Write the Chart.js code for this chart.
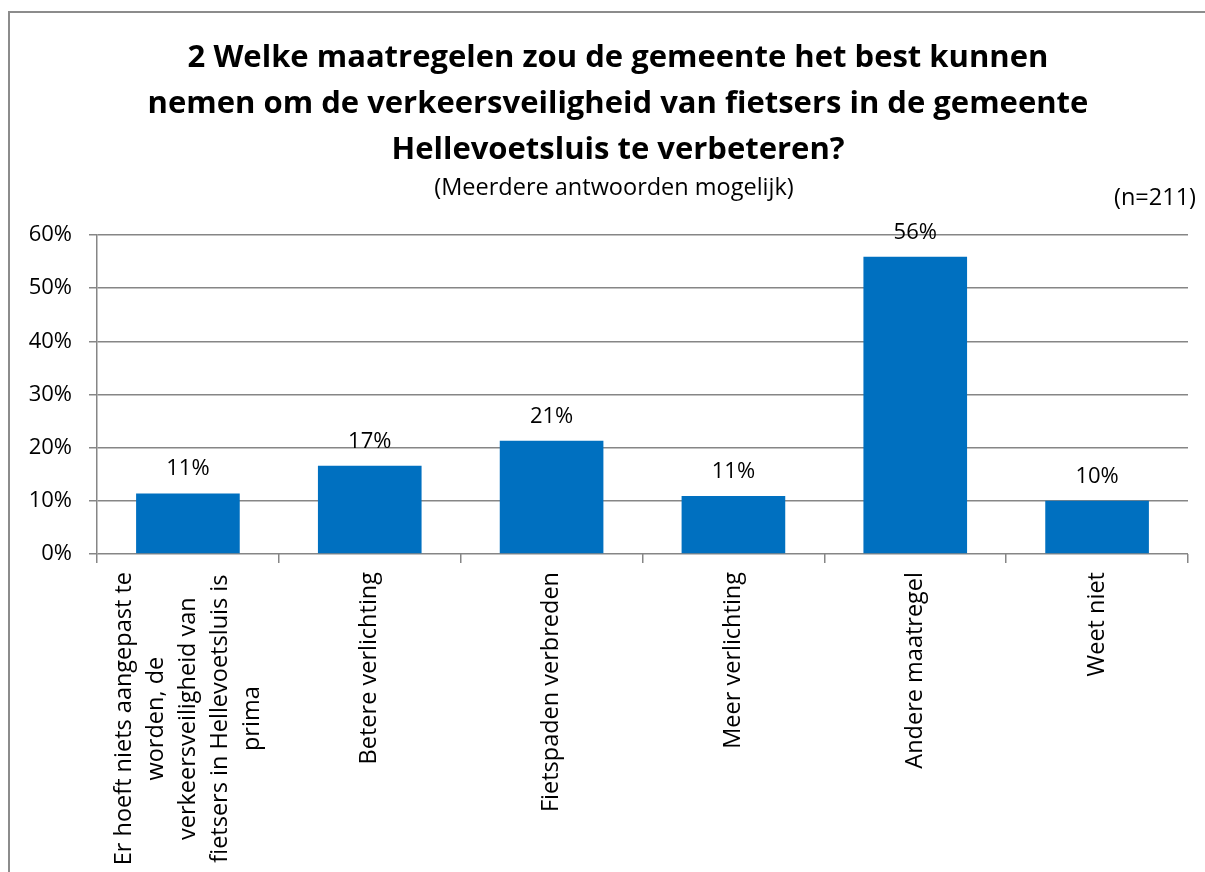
<!DOCTYPE html>
<html>
<head>
<meta charset="utf-8">
<script src="https://cdn.jsdelivr.net/npm/chart.js@4.4.1/dist/chart.umd.min.js"></script>
<style>
html, body { margin: 0; padding: 0; background: #fff; overflow: hidden; }
#wrap { position: relative; width: 1205px; height: 872px; }
#frame { position: absolute; left: 8px; top: 11px; width: 1260px; height: 920px; border: 2px solid #8c8c8c; box-sizing: border-box; }
canvas { position: absolute; left: 0; top: 0; }
</style>
</head>
<body>
<div id="wrap">
  <div id="frame"></div>
  <canvas id="grafico" width="1205" height="872"></canvas>
</div>
<script>
// datos del gráfico
const categorias = [
    ["Er hoeft niets aangepast te", "worden, de", "verkeersveiligheid van", "fietsers in Hellevoetsluis is", "prima"],
    ["Betere verlichting"],
    ["Fietspaden verbreden"],
    ["Meer verlichting"],
    ["Andere maatregel"],
    ["Weet niet"]
];
const valores = [11.4, 16.6, 21.3, 10.9, 55.9, 10.0]; // % van respondenten
const ticksY = [0, 10, 20, 30, 40, 50, 60];
const titulo = [
    "2 Welke maatregelen zou de gemeente het best kunnen",
    "nemen om de verkeersveiligheid van fietsers in de gemeente",
    "Hellevoetsluis te verbeteren?"
];
const subtitulo = "(Meerdere antwoorden mogelijk)";
const nTexto = "(n=211)";

const fuente = "'Open Sans', sans-serif";
const gris = "#868686";
const tam = 23.5; // tamaño de letra normal
const tamNum = 22; // tamaño de letra de los porcentajes

// título, etiquetas de valores, categorías y n
const etiquetas = {
    id: "etiquetas",
    afterDatasetsDraw(chart) {
        const ctx = chart.ctx;
        ctx.save();
        ctx.fillStyle = "#000";
        ctx.textAlign = "center";
        ctx.textBaseline = "middle";
        ctx.font = "bold 31px " + fuente;
        titulo.forEach((linea, i) => ctx.fillText(linea, 618, 58 + i * 46));
        ctx.font = tam + "px " + fuente;
        ctx.fillText(subtitulo, 614, 188);

        ctx.textBaseline = "alphabetic";
        ctx.font = tamNum + "px " + fuente;
        chart.getDatasetMeta(0).data.forEach((barra, i) => {
            ctx.fillText(Math.round(valores[i]) + "%", barra.x, barra.y - 18);
        });
        ctx.font = tam + "px " + fuente;
        const ejeX = chart.scales.x;
        categorias.forEach((lineas, i) => {
            const cx = ejeX.getPixelForTick(i);
            const ancho = Math.max(...lineas.map(l => ctx.measureText(l).width));
            const cy = ejeX.top + 18 + ancho / 2;
            lineas.forEach((linea, j) => {
                ctx.save();
                ctx.translate(cx + (j - (lineas.length - 1) / 2) * 32, cy);
                ctx.rotate(-Math.PI / 2);
                ctx.textBaseline = "middle";
                ctx.fillText(linea, 0, 0);
                ctx.restore();
            });
        });
        ctx.textAlign = "right";
        ctx.textBaseline = "middle";
        ctx.fillText(nTexto, chart.width - 9, 198);
        ctx.restore();
    }
};

const ctx = document.getElementById("grafico").getContext("2d");
const grafico = new Chart(ctx, {
    type: "bar",
    data: {
        labels: categorias,
        datasets: [{
            data: valores,
            backgroundColor: "#0070C0",
            barPercentage: 0.57,
            categoryPercentage: 1
        }]
    },
    options: {
        responsive: false,
        animation: false,
        layout: { padding: { left: 10, right: 17, top: 235, bottom: 0 } },
        plugins: {
            legend: { display: false },
            tooltip: { enabled: false },
            title: { display: false },
            subtitle: { display: false }
        },
        scales: {
            x: {
                grid: { display: true, offset: true, drawOnChartArea: false, color: gris, tickLength: 9, lineWidth: 1.5 },
                border: { display: false },
                ticks: { display: false },
                afterFit: s => { s.height = 318; }
            },
            y: {
                min: 0,
                max: 60,
                afterBuildTicks: s => { s.ticks = ticksY.map(v => ({ value: v })); },
                grid: { color: gris, tickLength: 8, lineWidth: 1.5 },
                border: { display: true, color: gris, width: 1.5 },
                ticks: {
                    color: "#000",
                    padding: 17,
                    font: { family: fuente, size: tamNum },
                    callback: v => v + "%"
                },
                afterFit: s => { s.width = 87; }
            }
        }
    },
    plugins: [etiquetas]
});
</script>
</body>
</html>
